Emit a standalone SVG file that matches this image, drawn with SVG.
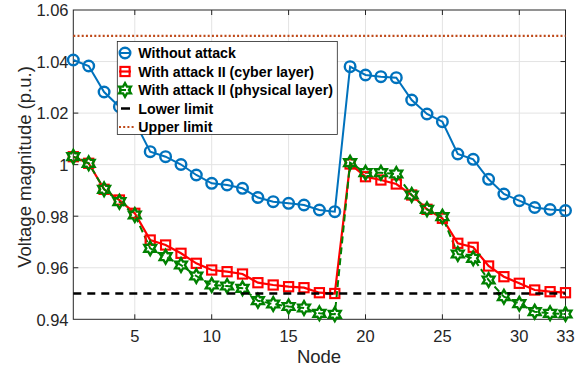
<svg xmlns="http://www.w3.org/2000/svg" xmlns:xlink="http://www.w3.org/1999/xlink" width="584" height="372" viewBox="0 0 584 372">
<style>
.grid{stroke:#e3e3e3;stroke-width:1;fill:none}
.ax{stroke:#262626;stroke-width:1;fill:none}
.tl{font-family:"Liberation Sans",Arial,sans-serif;font-size:16.5px;fill:#262626}
.lab{font-family:"Liberation Sans",Arial,sans-serif;font-size:18.5px;fill:#262626}
.lg{font-family:"Liberation Sans",Arial,sans-serif;font-size:14.2px;font-weight:bold;fill:#000}
.blue{stroke:#0072BD;stroke-width:2;fill:none}
.red{stroke:#FF0000;stroke-width:2.2;fill:none}
.green{stroke:#008000;stroke-width:2;fill:none;stroke-dasharray:7,4}
.mc{stroke:#0072BD;stroke-width:2.4;fill:none}
.ms{stroke:#FF0000;stroke-width:2.1;fill:none}
.mh{stroke:#008000;stroke-width:2.4;fill:none;stroke-linejoin:miter}
.low{stroke:#000;stroke-width:2.5;stroke-dasharray:8,6;fill:none}
.up{stroke:#BF4A1A;stroke-width:2.2;stroke-dasharray:2,2.2;fill:none}
</style>
<defs>
<circle id="c" cx="0" cy="0" r="5.3" class="mc"/>
<rect id="s" x="-4.6" y="-4.6" width="9.2" height="9.2" class="ms"/>
<path id="h" class="mh" d="M0,-6.8 L1.96,-3.4 L5.89,-3.4 L3.93,0 L5.89,3.4 L1.96,3.4 L0,6.8 L-1.96,3.4 L-5.89,3.4 L-3.93,0 L-5.89,-3.4 L-1.96,-3.4 Z"/>
</defs>
<rect x="0" y="0" width="584" height="372" fill="#fff"/>
<g id="axes">
<g class="grid">
<line x1="134.8" y1="10" x2="134.8" y2="319.3"/>
<line x1="211.7" y1="10" x2="211.7" y2="319.3"/>
<line x1="288.6" y1="10" x2="288.6" y2="319.3"/>
<line x1="365.5" y1="10" x2="365.5" y2="319.3"/>
<line x1="442.4" y1="10" x2="442.4" y2="319.3"/>
<line x1="519.3" y1="10" x2="519.3" y2="319.3"/>
<line x1="73.3" y1="61.55" x2="565.5" y2="61.55"/>
<line x1="73.3" y1="113.1" x2="565.5" y2="113.1"/>
<line x1="73.3" y1="164.65" x2="565.5" y2="164.65"/>
<line x1="73.3" y1="216.2" x2="565.5" y2="216.2"/>
<line x1="73.3" y1="267.75" x2="565.5" y2="267.75"/>
</g>
<rect class="ax" x="73.3" y="10" width="492.2" height="309.3"/>
<path class="ax" d="M134.8,319.3v-5M211.7,319.3v-5M288.6,319.3v-5M365.5,319.3v-5M442.4,319.3v-5M519.3,319.3v-5M134.8,10v5M211.7,10v5M288.6,10v5M365.5,10v5M442.4,10v5M519.3,10v5M73.3,61.55h5M73.3,113.1h5M73.3,164.65h5M73.3,216.2h5M73.3,267.75h5M565.5,61.55h-5M565.5,113.1h-5M565.5,164.65h-5M565.5,216.2h-5M565.5,267.75h-5"/>
<g class="tl" text-anchor="end">
<text x="68.5" y="16.3">1.06</text>
<text x="68.5" y="67.8">1.04</text>
<text x="68.5" y="119.4">1.02</text>
<text x="68.5" y="170.9">1</text>
<text x="68.5" y="222.5">0.98</text>
<text x="68.5" y="274">0.96</text>
<text x="68.5" y="325.6">0.94</text>
</g>
<g class="tl" text-anchor="middle">
<text x="134.8" y="341.5">5</text>
<text x="211.7" y="341.5">10</text>
<text x="288.6" y="341.5">15</text>
<text x="365.5" y="341.5">20</text>
<text x="442.4" y="341.5">25</text>
<text x="519.3" y="341.5">30</text>
<text x="565.5" y="341.5">33</text>
</g>
<text class="lab" x="319" y="363" text-anchor="middle">Node</text>
<text class="lab" transform="translate(31,167) rotate(-90)" text-anchor="middle">Voltage magnitude (p.u.)</text>
</g>
<g id="connectors">
<polyline id="without-attack-line" class="blue" points="73.3,60 88.7,66 104.1,92 119.4,106.7 134.8,121.5 150.2,151.7 165.6,156.7 181,164.5 196.3,175 211.7,183.3 227.1,185 242.5,188.3 257.9,197.5 273.2,201.7 288.6,203.3 304,205 319.4,210 334.8,211.7 350.1,66.7 365.5,75 380.9,76.7 396.3,77.7 411.7,100 427,114 442.4,121.7 457.8,154 473.2,159.3 488.6,179.3 503.9,194 519.3,200.7 534.7,207.5 550.1,209.5 565.5,210.5"/>
<polyline id="cyber-line" class="red" points="73.3,156.7 88.7,163.3 104.1,189.3 119.4,200 134.8,213.3 150.2,240 165.6,245 181,253.3 196.3,263.3 211.7,270 227.1,271.7 242.5,274 257.9,282.7 273.2,285 288.6,286.7 304,287.7 319.4,292.7 334.8,293.5 350.1,164 365.5,176.7 380.9,180 396.3,184 411.7,195 427,209.3 442.4,218.3 457.8,243.3 473.2,247.3 488.6,266 503.9,276.7 519.3,283.3 534.7,290 550.1,291.7 565.5,292.7"/>
<polyline id="physical-line" class="green" points="73.3,156.7 88.7,163.3 104.1,189.3 119.4,201.7 134.8,215 150.2,248.3 165.6,256.7 181,265 196.3,276 211.7,285 227.1,286 242.5,288.3 257.9,300.7 273.2,304 288.6,306.5 304,308 319.4,313.3 334.8,314.3 350.1,162.7 365.5,172.7 380.9,172.7 396.3,174 411.7,195 427,209.3 442.4,216.7 457.8,254 473.2,258.3 488.6,280 503.9,296.7 519.3,303.7 534.7,311.7 550.1,313.3 565.5,314"/>
</g>
<g id="without-attack-markers">
<use href="#c" x="73.3" y="60"/><use href="#c" x="88.7" y="66"/><use href="#c" x="104.1" y="92"/><use href="#c" x="119.4" y="106.7"/><use href="#c" x="134.8" y="121.5"/><use href="#c" x="150.2" y="151.7"/><use href="#c" x="165.6" y="156.7"/><use href="#c" x="181" y="164.5"/><use href="#c" x="196.3" y="175"/><use href="#c" x="211.7" y="183.3"/><use href="#c" x="227.1" y="185"/><use href="#c" x="242.5" y="188.3"/><use href="#c" x="257.9" y="197.5"/><use href="#c" x="273.2" y="201.7"/><use href="#c" x="288.6" y="203.3"/><use href="#c" x="304" y="205"/><use href="#c" x="319.4" y="210"/><use href="#c" x="334.8" y="211.7"/><use href="#c" x="350.1" y="66.7"/><use href="#c" x="365.5" y="75"/><use href="#c" x="380.9" y="76.7"/><use href="#c" x="396.3" y="77.7"/><use href="#c" x="411.7" y="100"/><use href="#c" x="427" y="114"/><use href="#c" x="442.4" y="121.7"/><use href="#c" x="457.8" y="154"/><use href="#c" x="473.2" y="159.3"/><use href="#c" x="488.6" y="179.3"/><use href="#c" x="503.9" y="194"/><use href="#c" x="519.3" y="200.7"/><use href="#c" x="534.7" y="207.5"/><use href="#c" x="550.1" y="209.5"/><use href="#c" x="565.5" y="210.5"/>
</g>
<g id="cyber-markers">
<use href="#s" x="73.3" y="156.7"/><use href="#s" x="88.7" y="163.3"/><use href="#s" x="104.1" y="189.3"/><use href="#s" x="119.4" y="200"/><use href="#s" x="134.8" y="213.3"/><use href="#s" x="150.2" y="240"/><use href="#s" x="165.6" y="245"/><use href="#s" x="181" y="253.3"/><use href="#s" x="196.3" y="263.3"/><use href="#s" x="211.7" y="270"/><use href="#s" x="227.1" y="271.7"/><use href="#s" x="242.5" y="274"/><use href="#s" x="257.9" y="282.7"/><use href="#s" x="273.2" y="285"/><use href="#s" x="288.6" y="286.7"/><use href="#s" x="304" y="287.7"/><use href="#s" x="319.4" y="292.7"/><use href="#s" x="334.8" y="293.5"/><use href="#s" x="350.1" y="164"/><use href="#s" x="365.5" y="176.7"/><use href="#s" x="380.9" y="180"/><use href="#s" x="396.3" y="184"/><use href="#s" x="411.7" y="195"/><use href="#s" x="427" y="209.3"/><use href="#s" x="442.4" y="218.3"/><use href="#s" x="457.8" y="243.3"/><use href="#s" x="473.2" y="247.3"/><use href="#s" x="488.6" y="266"/><use href="#s" x="503.9" y="276.7"/><use href="#s" x="519.3" y="283.3"/><use href="#s" x="534.7" y="290"/><use href="#s" x="550.1" y="291.7"/><use href="#s" x="565.5" y="292.7"/>
</g>
<g id="physical-markers">
<use href="#h" x="73.3" y="156.7"/><use href="#h" x="88.7" y="163.3"/><use href="#h" x="104.1" y="189.3"/><use href="#h" x="119.4" y="201.7"/><use href="#h" x="134.8" y="215"/><use href="#h" x="150.2" y="248.3"/><use href="#h" x="165.6" y="256.7"/><use href="#h" x="181" y="265"/><use href="#h" x="196.3" y="276"/><use href="#h" x="211.7" y="285"/><use href="#h" x="227.1" y="286"/><use href="#h" x="242.5" y="288.3"/><use href="#h" x="257.9" y="300.7"/><use href="#h" x="273.2" y="304"/><use href="#h" x="288.6" y="306.5"/><use href="#h" x="304" y="308"/><use href="#h" x="319.4" y="313.3"/><use href="#h" x="334.8" y="314.3"/><use href="#h" x="350.1" y="162.7"/><use href="#h" x="365.5" y="172.7"/><use href="#h" x="380.9" y="172.7"/><use href="#h" x="396.3" y="174"/><use href="#h" x="411.7" y="195"/><use href="#h" x="427" y="209.3"/><use href="#h" x="442.4" y="216.7"/><use href="#h" x="457.8" y="254"/><use href="#h" x="473.2" y="258.3"/><use href="#h" x="488.6" y="280"/><use href="#h" x="503.9" y="296.7"/><use href="#h" x="519.3" y="303.7"/><use href="#h" x="534.7" y="311.7"/><use href="#h" x="550.1" y="313.3"/><use href="#h" x="565.5" y="314"/>
</g>
<g id="limits">
<line class="low" x1="73.3" y1="293.5" x2="565.5" y2="293.5"/>
<line class="up" x1="73.3" y1="35.8" x2="565.5" y2="35.8"/>
</g>
<g id="legend">
<rect x="117.3" y="41.5" width="220" height="93" fill="#fff" stroke="#262626" stroke-width="0.8"/>
<line class="blue" x1="119" y1="53" x2="131" y2="53"/><use href="#c" x="125" y="53"/>
<line class="red" x1="119" y1="71.5" x2="131" y2="71.5"/><use href="#s" x="125" y="71.5"/>
<line class="green" x1="119" y1="90" x2="131" y2="90"/><use href="#h" x="125" y="90"/>
<line stroke="#000" stroke-width="2.5" x1="121" y1="108.5" x2="130" y2="108.5"/>
<line class="up" x1="119" y1="127" x2="135" y2="127"/>
<text class="lg" x="138.3" y="58">Without attack</text>
<text class="lg" x="138.3" y="76.5">With attack II (cyber layer)</text>
<text class="lg" x="138.3" y="95">With attack II (physical layer)</text>
<text class="lg" x="138.3" y="113.5">Lower limit</text>
<text class="lg" x="138.3" y="132">Upper limit</text>
</g>
</svg>
